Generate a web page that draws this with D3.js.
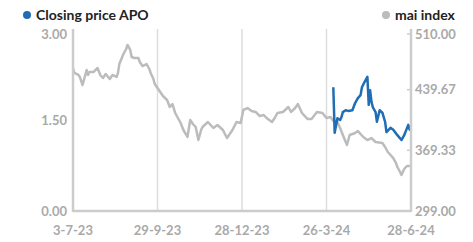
<!DOCTYPE html>
<html>
<head>
<meta charset="utf-8">
<script src="https://cdn.jsdelivr.net/npm/d3@7"></script>
<style>
  body { margin: 0; background: #fff; }
  text { font-family: Lato, 'Open Sans', sans-serif; }
</style>
</head>
<body>
<script>
// x axis is trading-day index, one tick every 62 sessions
const dateLabels = ['3-7-23', '29-9-23', '28-12-23', '26-3-24', '28-6-24']
const dateTicks = [0, 62, 124, 186, 248]

const leftTicks = [0, 1.5, 3]
const rightTicks = [299, 369.33, 439.67, 510]

// mai index (right axis)
const maiDay = [0, 1, 4, 5, 7, 10, 11, 12, 15, 18, 20, 22, 24, 27, 29, 32, 33, 34, 37, 39,
  40, 42, 43, 45, 48, 49, 51, 54, 56, 57, 59, 60, 62, 64, 66, 69, 71, 73, 75, 77,
  79, 81, 84, 86, 88, 90, 92, 94, 95, 99, 103, 106, 110, 113, 117, 120, 123, 125, 128, 131,
  134, 137, 140, 142, 146, 148, 150, 154, 158, 160, 163, 165, 168, 172, 175, 179, 183, 186, 189, 191,
  194, 196, 198, 201, 203, 207, 209, 213, 216, 219, 222, 227, 229, 231, 233, 235, 237, 238, 240, 241,
  243, 245, 248]
const maiIndex = [464.8, 459.0, 456.7, 454.4, 445.1, 462.5, 456.7, 460.1, 460.1, 464.8, 456.7, 453.2, 457.8, 452.0, 456.7, 454.4, 459.0, 469.4, 481.0, 486.8,
  491.5, 485.7, 477.5, 476.4, 476.4, 471.7, 467.1, 469.4, 463.6, 459.0, 452.0, 446.2, 441.6, 437.0, 432.3, 427.7, 419.6, 423.0, 412.6, 406.8,
  401.0, 392.9, 384.8, 404.5, 399.9, 396.4, 381.3, 392.9, 396.4, 402.2, 395.2, 398.7, 392.9, 383.6, 392.9, 402.2, 401.0, 416.1, 418.4, 414.9,
  413.8, 409.1, 410.3, 406.8, 402.2, 406.8, 412.6, 413.8, 419.6, 413.8, 418.4, 423.0, 412.6, 405.7, 405.7, 413.8, 412.6, 406.8, 408.0, 403.3,
  402.2, 395.2, 387.1, 375.5, 387.1, 389.4, 391.7, 384.8, 381.3, 383.6, 379.0, 377.8, 373.2, 367.4, 363.9, 360.4, 354.6, 350.0, 344.2, 340.7,
  347.7, 351.2, 351.2]

// closing price APO (left axis)
const apoDay = [191, 192, 194, 196, 197, 198, 200, 202, 205, 207, 209, 211, 212, 214, 216, 217, 218, 219, 220, 222,
  223, 225, 227, 229, 230, 233, 235, 238, 241, 243, 246, 247, 248]
const apoClose = [2.04, 1.29, 1.53, 1.50, 1.55, 1.63, 1.66, 1.65, 1.66, 1.78, 1.86, 1.91, 2.04, 2.13, 2.21, 1.75, 1.99, 1.80, 1.71, 1.63,
  1.47, 1.66, 1.62, 1.47, 1.30, 1.37, 1.34, 1.25, 1.17, 1.25, 1.42, 1.34, 1.34]

const width = 473, height = 242
const plot = {left: 73, right: 411, top: 29, bottom: 211}
const axisColor = '#cccccc', labelColor = '#a9a9a9'

const svg = d3.select('body').append('svg')
  .attr('width', width)
  .attr('height', height)

const x = d3.scaleLinear().domain([0, 248]).range([plot.left, plot.right])
const yL = d3.scaleLinear().domain([0, 3]).range([plot.bottom, plot.top])
const yR = d3.scaleLinear().domain([299, 510]).range([plot.bottom, plot.top])

// vertical grid
svg.append('g').selectAll('line').data(dateTicks.slice(1, -1)).enter()
  .append('line')
  .attr('x1', d => x(d)).attr('x2', d => x(d))
  .attr('y1', plot.top).attr('y2', plot.bottom)
  .attr('stroke', '#dddddd').attr('stroke-width', 1.5)

// lines
svg.append('path')
  .datum(maiDay.map((d, i) => [d, maiIndex[i]]))
  .attr('fill', 'none')
  .attr('stroke', '#bcbcbc')
  .attr('stroke-width', 2.5)
  .attr('stroke-linejoin', 'round')
  .attr('d', d3.line().x(d => x(d[0])).y(d => yR(d[1])))

svg.append('path')
  .datum(apoDay.map((d, i) => [d, apoClose[i]]))
  .attr('fill', 'none')
  .attr('stroke', '#1f6db4')
  .attr('stroke-width', 2.5)
  .attr('stroke-linejoin', 'round')
  .attr('d', d3.line().x(d => x(d[0])).y(d => yL(d[1])))

// axis frame
svg.append('line').attr('x1', plot.left).attr('x2', plot.left).attr('y1', plot.top).attr('y2', plot.bottom + 1)
  .attr('stroke', axisColor).attr('stroke-width', 2.5)
svg.append('line').attr('x1', plot.right).attr('x2', plot.right).attr('y1', plot.top).attr('y2', plot.bottom + 1)
  .attr('stroke', axisColor).attr('stroke-width', 2.5)
svg.append('line').attr('x1', plot.left).attr('x2', plot.right).attr('y1', plot.bottom).attr('y2', plot.bottom)
  .attr('stroke', axisColor).attr('stroke-width', 2.5)

// top labels get nudged down so they stay inside the frame
const nudge = v => v === 3 || v === 510 ? 5 : 0

svg.append('g').selectAll('text').data(leftTicks).enter()
  .append('text')
  .attr('x', plot.left - 6)
  .attr('y', d => yL(d) + nudge(d))
  .attr('dy', '0.35em')
  .attr('text-anchor', 'end')
  .attr('font-size', 13).attr('font-weight', 'bold')
  .attr('fill', labelColor)
  .text(d => d.toFixed(2))

const rg = svg.append('g')
rg.selectAll('line').data(rightTicks.slice(1)).enter()
  .append('line')
  .attr('x1', plot.right - 4).attr('x2', plot.right)
  .attr('y1', d => yR(d) + nudge(d)).attr('y2', d => yR(d) + nudge(d))
  .attr('stroke', axisColor).attr('stroke-width', 1.5)
rg.selectAll('text').data(rightTicks).enter()
  .append('text')
  .attr('x', plot.right + 4)
  .attr('y', d => yR(d) + nudge(d))
  .attr('dy', '0.35em')
  .attr('font-size', 13).attr('font-weight', 'bold')
  .attr('fill', labelColor)
  .text(d => d.toFixed(2))

svg.append('g').selectAll('text').data(dateTicks).enter()
  .append('text')
  .attr('x', d => x(d))
  .attr('y', 230)
  .attr('dy', '0.35em')
  .attr('text-anchor', 'middle')
  .attr('font-size', 13).attr('font-weight', 'bold')
  .attr('fill', labelColor)
  .text((d, i) => dateLabels[i])

// legend
const legend = [
  {name: 'Closing price APO', color: '#1f6db4', x: 27},
  {name: 'mai index', color: '#bcbcbc', x: 386}
]
const lg = svg.append('g').selectAll('g').data(legend).enter().append('g')
lg.append('circle').attr('cx', d => d.x).attr('cy', 15).attr('r', 4).attr('fill', d => d.color)
lg.append('text')
  .attr('x', d => d.x + 9).attr('y', 15).attr('dy', '0.35em')
  .attr('font-family', "'Noto Sans', sans-serif")
  .attr('font-size', 14).attr('font-weight', 'bold')
  .attr('fill', '#222')
  .text(d => d.name)
</script>
</body>
</html>
